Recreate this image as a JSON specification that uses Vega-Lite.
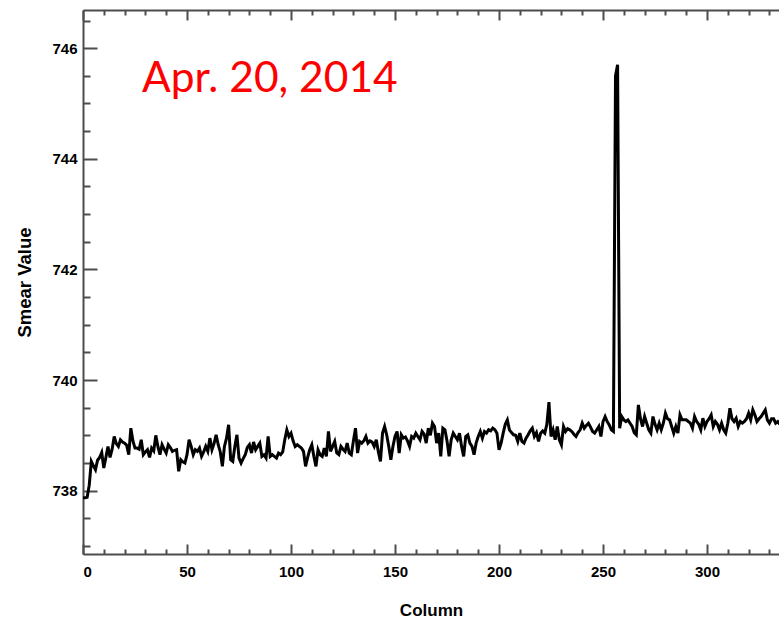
{
  "$schema": "https://vega.github.io/schema/vega-lite/v6.json",
  "width": 696,
  "height": 544,
  "autosize": {"type": "none"},
  "padding": {"left": 83, "top": 10, "right": 0, "bottom": 69},
  "background": "white",
  "config": {
    "view": {"stroke": null},
    "axis": {
      "grid": false,
      "labelFont": "Liberation Sans",
      "labelFontWeight": "bold",
      "labelFontSize": 15,
      "labelColor": "black",
      "domainColor": "#4d4d4d",
      "tickColor": "#4d4d4d",
      "domainWidth": 2,
      "tickWidth": 2,
      "titleFont": "Liberation Sans",
      "titleFontWeight": "bold",
      "titleFontSize": 17,
      "titleColor": "black"
    }
  },
  "datasets": {
    "smear": [
      {"col":0,"val":737.87},{"col":1,"val":737.87},{"col":2,"val":737.88},{"col":3,"val":738.1},{"col":4,"val":738.53},
      {"col":5,"val":738.45},{"col":6,"val":738.38},{"col":7,"val":738.55},{"col":8,"val":738.6},{"col":9,"val":738.69},
      {"col":10,"val":738.41},{"col":11,"val":738.6},{"col":12,"val":738.8},{"col":13,"val":738.6},{"col":14,"val":738.75},
      {"col":15,"val":738.98},{"col":16,"val":738.85},{"col":17,"val":738.8},{"col":18,"val":738.92},{"col":19,"val":738.88},
      {"col":20,"val":738.86},{"col":21,"val":738.82},{"col":22,"val":738.65},{"col":23,"val":739.13},{"col":24,"val":738.9},
      {"col":25,"val":738.77},{"col":26,"val":738.77},{"col":27,"val":738.75},{"col":28,"val":738.92},{"col":29,"val":738.65},
      {"col":30,"val":738.7},{"col":31,"val":738.74},{"col":32,"val":738.6},{"col":33,"val":738.77},{"col":34,"val":738.72},
      {"col":35,"val":739.0},{"col":36,"val":738.8},{"col":37,"val":738.65},{"col":38,"val":738.83},{"col":39,"val":738.75},
      {"col":40,"val":738.68},{"col":41,"val":738.83},{"col":42,"val":738.78},{"col":43,"val":738.71},{"col":44,"val":738.73},
      {"col":45,"val":738.74},{"col":46,"val":738.35},{"col":47,"val":738.56},{"col":48,"val":738.52},{"col":49,"val":738.5},
      {"col":50,"val":738.65},{"col":51,"val":738.92},{"col":52,"val":738.8},{"col":53,"val":738.65},{"col":54,"val":738.74},
      {"col":55,"val":738.71},{"col":56,"val":738.77},{"col":57,"val":738.62},{"col":58,"val":738.7},{"col":59,"val":738.8},
      {"col":60,"val":738.71},{"col":61,"val":738.95},{"col":62,"val":738.74},{"col":63,"val":738.85},{"col":64,"val":739.01},
      {"col":65,"val":738.83},{"col":66,"val":738.7},{"col":67,"val":738.44},{"col":68,"val":738.8},{"col":69,"val":738.95},
      {"col":70,"val":739.19},{"col":71,"val":738.56},{"col":72,"val":738.53},{"col":73,"val":738.8},{"col":74,"val":739.01},
      {"col":75,"val":738.59},{"col":76,"val":738.5},{"col":77,"val":738.58},{"col":78,"val":738.65},{"col":79,"val":738.78},
      {"col":80,"val":738.83},{"col":81,"val":738.68},{"col":82,"val":738.88},{"col":83,"val":738.74},{"col":84,"val":738.8},
      {"col":85,"val":738.86},{"col":86,"val":738.62},{"col":87,"val":738.65},{"col":88,"val":738.59},{"col":89,"val":738.98},
      {"col":90,"val":738.62},{"col":91,"val":738.65},{"col":92,"val":738.62},{"col":93,"val":738.59},{"col":94,"val":738.68},
      {"col":95,"val":738.65},{"col":96,"val":738.7},{"col":97,"val":738.92},{"col":98,"val":739.1},{"col":99,"val":738.98},
      {"col":100,"val":739.04},{"col":101,"val":738.9},{"col":102,"val":738.8},{"col":103,"val":738.83},{"col":104,"val":738.8},
      {"col":105,"val":738.77},{"col":106,"val":738.71},{"col":107,"val":738.44},{"col":108,"val":738.6},{"col":109,"val":738.74},
      {"col":110,"val":738.83},{"col":111,"val":738.62},{"col":112,"val":738.44},{"col":113,"val":738.74},{"col":114,"val":738.65},
      {"col":115,"val":738.62},{"col":116,"val":738.77},{"col":117,"val":738.62},{"col":118,"val":739.07},{"col":119,"val":738.71},
      {"col":120,"val":738.8},{"col":121,"val":738.89},{"col":122,"val":738.68},{"col":123,"val":738.65},{"col":124,"val":738.8},
      {"col":125,"val":738.75},{"col":126,"val":738.71},{"col":127,"val":738.86},{"col":128,"val":738.68},{"col":129,"val":738.65},
      {"col":130,"val":738.9},{"col":131,"val":739.13},{"col":132,"val":738.68},{"col":133,"val":738.89},{"col":134,"val":738.86},
      {"col":135,"val":738.9},{"col":136,"val":738.98},{"col":137,"val":738.86},{"col":138,"val":738.9},{"col":139,"val":738.88},
      {"col":140,"val":738.8},{"col":141,"val":738.92},{"col":142,"val":738.7},{"col":143,"val":738.53},{"col":144,"val":739.04},
      {"col":145,"val":739.16},{"col":146,"val":739.01},{"col":147,"val":738.8},{"col":148,"val":738.56},{"col":149,"val":738.8},
      {"col":150,"val":738.98},{"col":151,"val":739.07},{"col":152,"val":738.68},{"col":153,"val":739.01},{"col":154,"val":738.95},
      {"col":155,"val":738.97},{"col":156,"val":738.9},{"col":157,"val":738.8},{"col":158,"val":738.98},{"col":159,"val":738.95},
      {"col":160,"val":739.04},{"col":161,"val":738.98},{"col":162,"val":738.92},{"col":163,"val":739.07},{"col":164,"val":739.02},
      {"col":165,"val":738.86},{"col":166,"val":739.13},{"col":167,"val":739.0},{"col":168,"val":739.22},{"col":169,"val":739.16},
      {"col":170,"val":738.86},{"col":171,"val":739.04},{"col":172,"val":738.62},{"col":173,"val":739.13},{"col":174,"val":739.1},
      {"col":175,"val":738.9},{"col":176,"val":738.62},{"col":177,"val":738.92},{"col":178,"val":739.04},{"col":179,"val":738.98},
      {"col":180,"val":738.92},{"col":181,"val":739.04},{"col":182,"val":738.8},{"col":183,"val":738.62},{"col":184,"val":738.98},
      {"col":185,"val":739.01},{"col":186,"val":738.86},{"col":187,"val":738.8},{"col":188,"val":738.65},{"col":189,"val":738.86},
      {"col":190,"val":738.98},{"col":191,"val":739.07},{"col":192,"val":738.95},{"col":193,"val":739.07},{"col":194,"val":739.04},
      {"col":195,"val":739.1},{"col":196,"val":739.08},{"col":197,"val":739.13},{"col":198,"val":739.1},{"col":199,"val":739.04},
      {"col":200,"val":738.74},{"col":201,"val":738.86},{"col":202,"val":739.04},{"col":203,"val":739.2},{"col":204,"val":739.28},
      {"col":205,"val":739.1},{"col":206,"val":739.05},{"col":207,"val":739.01},{"col":208,"val":739.0},{"col":209,"val":738.89},
      {"col":210,"val":739.04},{"col":211,"val":738.89},{"col":212,"val":738.86},{"col":213,"val":738.95},{"col":214,"val":739.01},
      {"col":215,"val":739.08},{"col":216,"val":739.13},{"col":217,"val":738.98},{"col":218,"val":739.05},{"col":219,"val":738.89},
      {"col":220,"val":739.04},{"col":221,"val":739.08},{"col":222,"val":739.04},{"col":223,"val":739.2},{"col":224,"val":739.6},
      {"col":225,"val":738.98},{"col":226,"val":739.1},{"col":227,"val":738.92},{"col":228,"val":739.16},{"col":229,"val":738.92},
      {"col":230,"val":738.83},{"col":231,"val":739.16},{"col":232,"val":739.07},{"col":233,"val":739.12},{"col":234,"val":739.1},
      {"col":235,"val":739.07},{"col":236,"val":739.02},{"col":237,"val":738.98},{"col":238,"val":739.05},{"col":239,"val":739.1},
      {"col":240,"val":739.22},{"col":241,"val":739.13},{"col":242,"val":739.18},{"col":243,"val":739.22},{"col":244,"val":739.15},
      {"col":245,"val":739.07},{"col":246,"val":739.04},{"col":247,"val":739.1},{"col":248,"val":739.16},{"col":249,"val":738.98},
      {"col":250,"val":739.25},{"col":251,"val":739.34},{"col":252,"val":739.25},{"col":253,"val":739.19},{"col":254,"val":739.1},
      {"col":255,"val":739.07},{"col":256,"val":745.5},{"col":257,"val":745.7},{"col":258,"val":739.13},{"col":259,"val":739.34},
      {"col":260,"val":739.28},{"col":261,"val":739.25},{"col":262,"val":739.28},{"col":263,"val":739.22},{"col":264,"val":739.16},
      {"col":265,"val":739.05},{"col":266,"val":739.01},{"col":267,"val":739.55},{"col":268,"val":739.3},{"col":269,"val":739.16},
      {"col":270,"val":739.34},{"col":271,"val":739.22},{"col":272,"val":739.1},{"col":273,"val":739.04},{"col":274,"val":739.34},
      {"col":275,"val":739.2},{"col":276,"val":739.1},{"col":277,"val":739.22},{"col":278,"val":739.1},{"col":279,"val":739.22},
      {"col":280,"val":739.4},{"col":281,"val":739.3},{"col":282,"val":739.28},{"col":283,"val":739.16},{"col":284,"val":739.04},
      {"col":285,"val":739.16},{"col":286,"val":739.04},{"col":287,"val":739.37},{"col":288,"val":739.28},{"col":289,"val":739.28},
      {"col":290,"val":739.28},{"col":291,"val":739.25},{"col":292,"val":739.22},{"col":293,"val":739.13},{"col":294,"val":739.34},
      {"col":295,"val":739.25},{"col":296,"val":739.2},{"col":297,"val":739.1},{"col":298,"val":739.31},{"col":299,"val":739.16},
      {"col":300,"val":739.25},{"col":301,"val":739.3},{"col":302,"val":739.37},{"col":303,"val":739.16},{"col":304,"val":739.25},
      {"col":305,"val":739.2},{"col":306,"val":739.1},{"col":307,"val":739.22},{"col":308,"val":739.1},{"col":309,"val":739.04},
      {"col":310,"val":739.22},{"col":311,"val":739.49},{"col":312,"val":739.3},{"col":313,"val":739.25},{"col":314,"val":739.31},
      {"col":315,"val":739.16},{"col":316,"val":739.25},{"col":317,"val":739.22},{"col":318,"val":739.25},{"col":319,"val":739.3},
      {"col":320,"val":739.4},{"col":321,"val":739.28},{"col":322,"val":739.46},{"col":323,"val":739.37},{"col":324,"val":739.25},
      {"col":325,"val":739.3},{"col":326,"val":739.34},{"col":327,"val":739.4},{"col":328,"val":739.46},{"col":329,"val":739.28},
      {"col":330,"val":739.22},{"col":331,"val":739.3},{"col":332,"val":739.3},{"col":333,"val":739.22},{"col":334,"val":739.25},
      {"col":335,"val":739.2}
    ],
    "note": [{"label": "Apr. 20, 2014", "col": 28.4, "val": 745.21}]
  },
  "layer": [
    {
      "data": {"name": "smear"},
      "mark": {"type": "line", "color": "black", "strokeWidth": 3, "clip": true, "strokeJoin": "miter"},
      "encoding": {
        "x": {
          "field": "col", "type": "quantitative",
          "scale": {"domain": [0, 334.6], "nice": false, "zero": false},
          "axis": {"orient": "bottom", "values": [0, 50, 100, 150, 200, 250, 300], "tickSize": -10, "labelPadding": 20, "title": "Column", "titlePadding": 23}
        },
        "y": {
          "field": "val", "type": "quantitative",
          "scale": {"domain": [736.855, 746.69], "nice": false, "zero": false},
          "axis": {"orient": "left", "values": [738, 740, 742, 744, 746], "tickSize": -14, "labelPadding": 20, "title": "Smear Value", "titlePadding": 17, "titleFontSize": 18.5}
        }
      }
    },
    {
      "data": {"name": "smear"},
      "mark": {"type": "point", "opacity": 0},
      "encoding": {
        "x": {
          "field": "col", "type": "quantitative",
          "axis": {"orient": "bottom", "values": [10,20,30,40,60,70,80,90,110,120,130,140,160,170,180,190,210,220,230,240,260,270,280,290,310,320,330], "tickSize": -5, "labels": false, "domain": false, "title": null}
        },
        "y": {
          "field": "val", "type": "quantitative",
          "axis": {"orient": "left", "values": [737, 737.5, 738.5, 739, 739.5, 740.5, 741, 741.5, 742.5, 743, 743.5, 744.5, 745, 745.5, 746.5], "tickSize": -7, "labels": false, "domain": false, "title": null}
        }
      }
    },
    {
      "data": {"name": "smear"},
      "mark": {"type": "point", "opacity": 0},
      "encoding": {
        "x": {
          "field": "col", "type": "quantitative",
          "axis": {"orient": "top", "values": [0, 50, 100, 150, 200, 250, 300], "tickSize": -10, "labels": false, "title": null}
        },
        "y": {"field": "val", "type": "quantitative", "axis": null}
      }
    },
    {
      "data": {"name": "smear"},
      "mark": {"type": "point", "opacity": 0},
      "encoding": {
        "x": {
          "field": "col", "type": "quantitative",
          "axis": {"orient": "top", "values": [10,20,30,40,60,70,80,90,110,120,130,140,160,170,180,190,210,220,230,240,260,270,280,290,310,320,330], "tickSize": -5, "labels": false, "domain": false, "title": null}
        },
        "y": {"field": "val", "type": "quantitative", "axis": null}
      }
    },
    {
      "data": {"name": "note"},
      "mark": {"type": "text", "color": "#ff0000", "font": "Lato", "fontSize": 42.5, "align": "left", "baseline": "alphabetic"},
      "encoding": {
        "x": {"field": "col", "type": "quantitative", "axis": null},
        "y": {"field": "val", "type": "quantitative", "axis": null},
        "text": {"field": "label"}
      }
    }
  ],
  "resolve": {"axis": {"x": "independent", "y": "independent"}}
}
